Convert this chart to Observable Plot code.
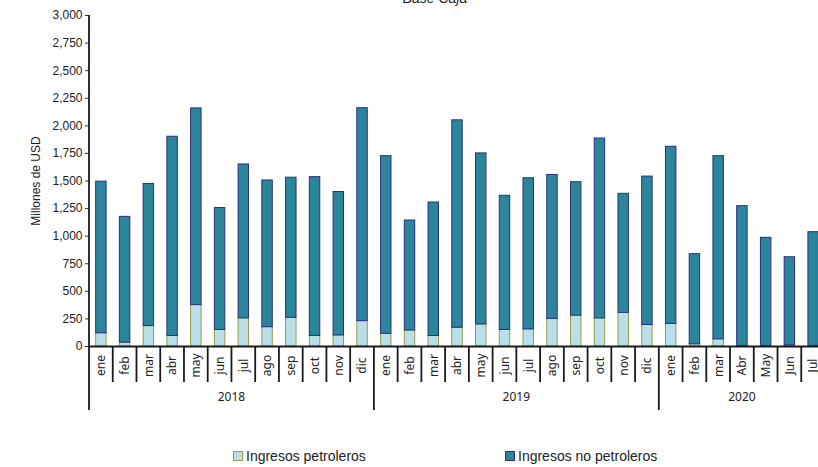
<!DOCTYPE html>
<html>
<head>
<meta charset="utf-8">
<script src="https://cdn.jsdelivr.net/npm/d3@7"></script>
<script src="https://cdn.jsdelivr.net/npm/@observablehq/plot@0.6"></script>
<style>
  html, body { margin: 0; padding: 0; background: #fff; overflow: hidden; }
  #wrap { position: relative; width: 818px; height: 467px; }
  #title { position: absolute; top: -9px; left: 0; width: 870px; text-align: center;
           font: italic 14px "Liberation Sans", Arial, sans-serif; line-height: 14px; color: #222; }
  #chart { position: absolute; top: 0; left: 0; }
  #legend { position: absolute; top: 448px; left: 0; width: 818px; height: 18px;
            font: 14px "Liberation Sans", Arial, sans-serif; color: #222; }
  .item { position: absolute; top: 0; display: flex; align-items: center; line-height: 16px; }
  .sw { width: 8px; height: 8px; margin-right: 3px; border: 1px solid; }
</style>
</head>
<body>
<div id="wrap">
  <div id="chart"></div>
  <div id="title">Base Caja</div>
  <div id="legend"></div>
</div>
<script>
const months = ["ene","feb","mar","abr","may","jun","jul","ago","sep","oct","nov","dic",
                "ene","feb","mar","abr","may","jun","jul","ago","sep","oct","nov","dic",
                "ene","feb","mar","Abr","May","Jun","Jul"];
const years = ["2018","2018","2018","2018","2018","2018","2018","2018","2018","2018","2018","2018",
               "2019","2019","2019","2019","2019","2019","2019","2019","2019","2019","2019","2019",
               "2020","2020","2020","2020","2020","2020","2020"];
const petroleros = [120,35,185,95,375,150,255,175,260,95,100,230,
                    115,145,95,170,200,150,155,250,280,255,305,195,
                    205,20,65,5,5,10,5];
const noPetroleros = [1374,1140,1288,1806,1783,1105,1395,1330,1270,1440,1300,1930,
                      1610,997,1210,1880,1550,1216,1370,1305,1209,1630,1079,1345,
                      1605,817,1660,1267,980,799,1031];
const series = ["Ingresos petroleros", "Ingresos no petroleros"];
const yTicks = [0,250,500,750,1000,1250,1500,1750,2000,2250,2500,2750,3000];

const fillColors = {"Ingresos petroleros": "#b9e0ea", "Ingresos no petroleros": "#2b869b"};
const strokeColors = {"Ingresos petroleros": "#9a9a44", "Ingresos no petroleros": "#2a2f80"};

const keys = months.map((m, i) => years[i] + "-" + m);
const rows = [];
keys.forEach((k, i) => {
  rows.push({key: k, serie: series[0], value: petroleros[i]});
  rows.push({key: k, serie: series[1], value: noPetroleros[i]});
});

const W = 818, H = 440, ML = 89, MT = 15, MB = 94, XR = 825;
const STEP = (XR - ML) / keys.length;
const INSET = STEP * 0.28;

function bottomAxis(index, scales, values, dims) {
  const x = scales.x;
  const bw = x.bandwidth();
  const y0 = dims.height - dims.marginBottom;
  const g = d3.create("svg:g");
  const lines = g.append("g").attr("stroke", "#1a1a1a").attr("stroke-width", 1.8);
  lines.append("line").attr("x1", dims.marginLeft).attr("x2", dims.marginLeft)
       .attr("y1", dims.marginTop).attr("y2", y0 + 1);
  const groups = {};
  keys.forEach((k, i) => {
    const left = x(k);
    const isYear = i === 0 || years[i] !== years[i - 1];
    lines.append("line").attr("x1", left).attr("x2", left)
         .attr("y1", y0).attr("y2", y0 + (isYear ? 64 : 36));
    (groups[years[i]] ||= []).push(left);
  });
  const txt = g.append("g").attr("font-family", "'Noto Sans', 'Open Sans', sans-serif")
               .attr("font-size", 12).attr("fill", "#222").attr("text-anchor", "middle");
  Object.entries(groups).forEach(([yr, ls]) => {
    const a = ls[0], b = ls[ls.length - 1] + bw;
    txt.append("text").attr("x", (a + b) / 2).attr("y", y0 + 55).text(yr);
  });
  return g.node();
}

const chart = Plot.plot({
  width: W, height: H,
  marginLeft: ML, marginRight: 0, marginTop: MT, marginBottom: MB,
  style: {fontFamily: "'Liberation Sans', Arial, sans-serif", fontSize: "12px", color: "#222", background: "transparent"},
  x: {type: "band", domain: keys, range: [ML, XR], padding: 0, round: false, axis: null},
  y: {domain: [0, 3000], range: [H - MB, MT]},
  color: {type: "identity"},
  marks: [
    Plot.axisY({ticks: yTicks, tickFormat: d3.format(","), tickSize: 4, tickPadding: 3,
                stroke: "#333", fontSize: 12,
                label: "Millones de USD", labelAnchor: "center", labelOffset: 58, labelArrow: "none"}),
    Plot.barY(rows, {x: "key", y: "value", fill: d => fillColors[d.serie], stroke: d => strokeColors[d.serie],
                     strokeWidth: 1, order: null, insetLeft: INSET, insetRight: INSET}),
    Plot.ruleY([0], {stroke: "#1a1a1a", strokeWidth: 2}),
    Plot.text(keys, {x: d => d, text: (d, i) => months[i], rotate: -90, frameAnchor: "bottom", dy: 19,
                     lineAnchor: "middle", textAnchor: "middle",
                     fontFamily: "'Noto Sans', 'Open Sans', sans-serif", fontSize: 12, fill: "#222"}),
    bottomAxis
  ]
});
document.getElementById("chart").appendChild(chart);

const legend = document.getElementById("legend");
const legendPos = [233, 505];
series.forEach((s, i) => {
  const it = document.createElement("div");
  it.className = "item";
  it.style.left = legendPos[i] + "px";
  const sw = document.createElement("span");
  sw.className = "sw";
  sw.style.background = fillColors[s];
  sw.style.borderColor = strokeColors[s];
  const t = document.createElement("span");
  t.textContent = s;
  it.appendChild(sw); it.appendChild(t);
  legend.appendChild(it);
});
</script>
</body>
</html>
